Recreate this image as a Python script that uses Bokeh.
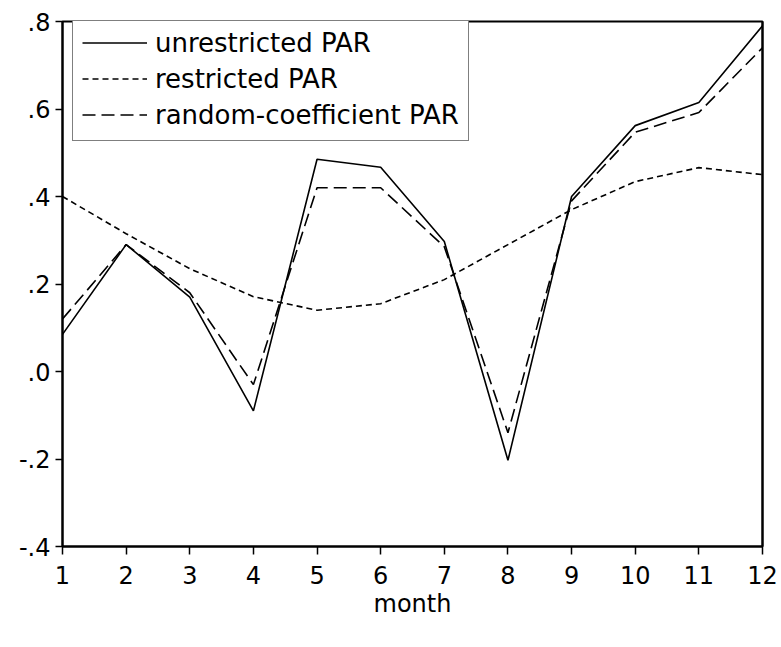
from bokeh.plotting import figure
from bokeh.models import Range1d, FixedTicker, Legend, LegendItem, LinearAxis
from bokeh.embed import file_html
from bokeh.resources import INLINE

months = [1, 2, 3, 4, 5, 6, 7, 8, 9, 10, 11, 12]
unrestricted = [0.085, 0.29, 0.17, -0.09, 0.485, 0.467, 0.297, -0.203, 0.40, 0.562, 0.615, 0.79]
restricted = [0.40, 0.315, 0.235, 0.171, 0.14, 0.155, 0.21, 0.29, 0.37, 0.434, 0.466, 0.45]
random_coef = [0.12, 0.29, 0.18, -0.03, 0.42, 0.42, 0.285, -0.14, 0.39, 0.547, 0.592, 0.74]
series_names = ["unrestricted PAR", "restricted PAR", "random-coefficient PAR"]
y_ticks = [-0.4, -0.2, 0.0, 0.2, 0.4, 0.6, 0.8]
y_tick_labels = ["-.4", "-.2", ".0", ".2", ".4", ".6", ".8"]
x_label = "month"

FONT = "DejaVu Sans"
FS = "24px"
LFS = "26px"

p = figure(output_backend="svg", toolbar_location=None,
           frame_width=700, frame_height=525,
           min_border_left=62, min_border_top=21, min_border_right=16, min_border_bottom=60,
           x_range=Range1d(1, 12), y_range=Range1d(-0.4, 0.8))

p.xgrid.visible = False
p.ygrid.visible = False
p.outline_line_color = "black"
p.outline_line_width = 2
p.background_fill_color = "white"
p.border_fill_color = "white"

for ax in (p.xaxis[0], p.yaxis[0]):
    ax.axis_line_width = 2
    ax.axis_line_color = "black"
    ax.major_tick_line_color = "black"
    ax.major_tick_line_width = 1.5
    ax.major_tick_in = 0
    ax.minor_tick_line_color = None
    ax.major_label_text_font = FONT
    ax.major_label_text_font_size = FS
    ax.major_label_text_color = "black"

p.xaxis[0].ticker = FixedTicker(ticks=months)
p.xaxis[0].major_tick_out = 8
p.xaxis[0].major_label_standoff = 11
p.xaxis[0].axis_label = x_label
p.xaxis[0].axis_label_text_font = FONT
p.xaxis[0].axis_label_text_font_size = FS
p.xaxis[0].axis_label_text_font_style = "normal"
p.xaxis[0].axis_label_text_color = "black"
p.xaxis[0].axis_label_standoff = 3

p.yaxis[0].ticker = FixedTicker(ticks=y_ticks)
p.yaxis[0].major_label_overrides = {t: l for t, l in zip(y_ticks, y_tick_labels)}
p.yaxis[0].major_tick_out = 7
p.yaxis[0].major_label_standoff = 5

right_axis = LinearAxis(axis_line_width=2, axis_line_color="black",
                        major_tick_line_color=None, minor_tick_line_color=None,
                        major_label_text_font_size="0px", major_label_standoff=0)
right_axis.ticker = FixedTicker(ticks=[])
p.add_layout(right_axis, "right")

r1 = p.line(months, unrestricted, line_color="black", line_width=1.6)
r2 = p.line(months, restricted, line_color="black", line_width=1.6, line_dash="6 4")
r3 = p.line(months, random_coef, line_color="black", line_width=1.6, line_dash="13 6")

legend = Legend(items=[LegendItem(label=series_names[0], renderers=[r1]),
                       LegendItem(label=series_names[1], renderers=[r2]),
                       LegendItem(label=series_names[2], renderers=[r3])],
                location=(10, 405))
legend.margin = 0
legend.padding = 9
legend.spacing = 3
legend.glyph_width = 65
legend.glyph_height = 33
legend.label_height = 33
legend.label_standoff = 8
legend.label_text_font = FONT
legend.label_text_font_size = LFS
legend.label_text_color = "black"
legend.border_line_color = "black"
legend.border_line_width = 1.5
legend.background_fill_alpha = 1.0
p.add_layout(legend, "center")

open("out.html", "w").write(file_html(p, INLINE))
